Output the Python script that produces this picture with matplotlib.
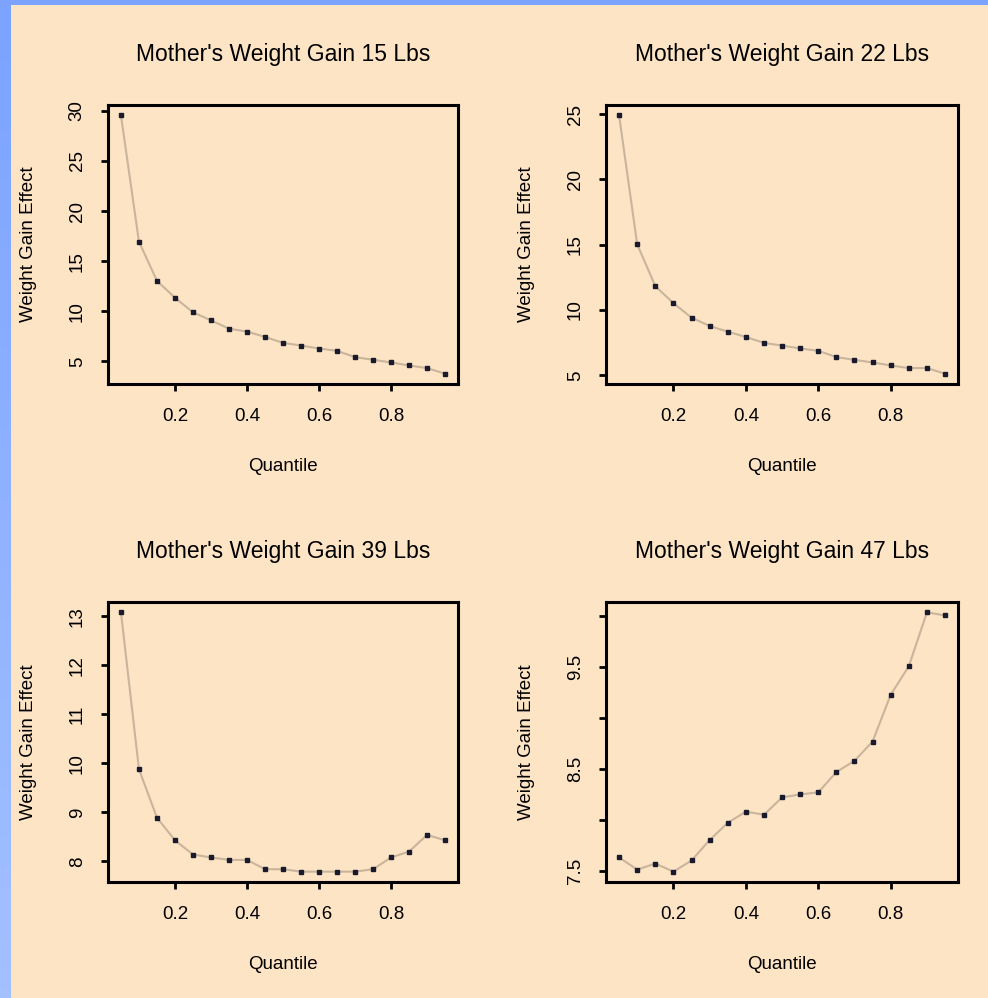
import numpy as np
import matplotlib
matplotlib.use("Agg")
import matplotlib.pyplot as plt

plt.rcParams['font.family'] = ['Liberation Sans', 'DejaVu Sans']

# quantiles used for every panel
quantiles = [0.05, 0.10, 0.15, 0.20, 0.25, 0.30, 0.35, 0.40, 0.45, 0.50,
             0.55, 0.60, 0.65, 0.70, 0.75, 0.80, 0.85, 0.90, 0.95]

# weight gain effect, one list per panel
effect_15 = [29.54, 16.94, 13.04, 11.35, 9.90, 9.10, 8.27, 7.98, 7.45, 6.85,
             6.59, 6.29, 6.06, 5.43, 5.17, 4.90, 4.60, 4.34, 3.78]
effect_22 = [24.90, 15.03, 11.83, 10.53, 9.42, 8.78, 8.35, 7.94, 7.49, 7.28,
             7.06, 6.88, 6.40, 6.19, 5.99, 5.76, 5.56, 5.56, 5.13]
effect_39 = [13.08, 9.88, 8.89, 8.43, 8.14, 8.08, 8.03, 8.03, 7.84, 7.84,
             7.79, 7.79, 7.79, 7.79, 7.84, 8.08, 8.20, 8.54, 8.43]
effect_47 = [7.63, 7.51, 7.57, 7.49, 7.60, 7.80, 7.97, 8.08, 8.05, 8.22,
             8.25, 8.27, 8.47, 8.58, 8.77, 9.23, 9.51, 10.04, 10.01]

titles = ["Mother's Weight Gain 15 Lbs", "Mother's Weight Gain 22 Lbs",
          "Mother's Weight Gain 39 Lbs", "Mother's Weight Gain 47 Lbs"]
series = [effect_15, effect_22, effect_39, effect_47]
yticks = [[5, 10, 15, 20, 25, 30],
          [5, 10, 15, 20, 25],
          [8, 9, 10, 11, 12, 13],
          [7.5, 8.0, 8.5, 9.0, 9.5, 10.0]]
yticklabels = [["5", "10", "15", "20", "25", "30"],
               ["5", "10", "15", "20", "25"],
               ["8", "9", "10", "11", "12", "13"],
               ["7.5", "", "8.5", "", "9.5", ""]]
xticks = [0.2, 0.4, 0.6, 0.8]

bg = '#FDE4C5'
line_col = '#C9B59C'

fig = plt.figure(figsize=(9.88, 9.98), dpi=100, facecolor=bg)

# blue strip on the left and top edges
strip = fig.add_axes([0, 0, 11 / 988, 1])
strip.imshow(np.linspace(0, 1, 100).reshape(-1, 1), aspect='auto',
             cmap=matplotlib.colors.LinearSegmentedColormap.from_list('b', ['#7BA3FF', '#A3C0FF']))
strip.axis('off')
top = fig.add_axes([0, 1 - 5 / 998, 1, 5 / 998])
top.axis('off')
top.add_patch(plt.Rectangle((0, 0), 1, 1, color='#7BA3FF', transform=top.transAxes))

positions = [[0.1093, 0.6152, 0.3543, 0.2796],
             [0.6134, 0.6152, 0.3563, 0.2796],
             [0.1093, 0.1162, 0.3543, 0.2806],
             [0.6134, 0.1162, 0.3563, 0.2806]]

for pos, title, vals, yt, ytl in zip(positions, titles, series, yticks, yticklabels):
    ax = fig.add_axes(pos)
    ax.set_facecolor(bg)
    ax.plot(quantiles, vals, color=line_col, lw=1.5, zorder=2)
    ax.plot(quantiles, vals, 's', color='#1a1a2e', ms=2.6, zorder=3)

    # R style 4% axis expansion
    xr = max(quantiles) - min(quantiles)
    ax.set_xlim(min(quantiles) - 0.04 * xr, max(quantiles) + 0.04 * xr)
    yr = max(vals) - min(vals)
    ax.set_ylim(min(vals) - 0.04 * yr, max(vals) + 0.04 * yr)

    ax.set_xticks(xticks)
    ax.set_xticklabels([str(t) for t in xticks])
    ax.set_yticks(yt)
    ax.set_yticklabels(ytl, rotation=90, va='center')

    for s in ax.spines.values():
        s.set_linewidth(2.2)
    ax.tick_params(axis='both', length=5, width=2, labelsize=13.5)
    ax.tick_params(axis='x', pad=12)
    ax.tick_params(axis='y', pad=11)

    ax.set_title(title, fontsize=16.5, pad=32)
    ax.set_xlabel('Quantile', fontsize=13.5, labelpad=24)
    ax.set_ylabel('Weight Gain Effect', fontsize=13.5, labelpad=23)

fig.savefig('out.png', dpi=100, facecolor=bg)
